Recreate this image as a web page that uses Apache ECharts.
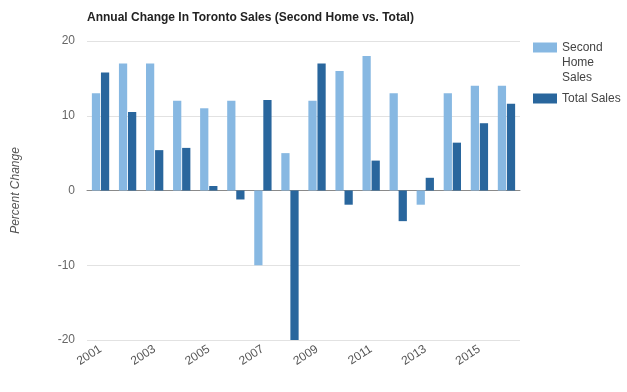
<!DOCTYPE html>
<html><head><meta charset="utf-8">
<script src="https://cdn.jsdelivr.net/npm/echarts@6/dist/echarts.min.js"></script>
<style>html,body{margin:0;padding:0;background:#fff}#c{width:627px;height:392px}</style>
</head><body><div id="c"></div>
<script>
const years = ['2001','2002','2003','2004','2005','2006','2007','2008','2009','2010','2011','2012','2013','2014','2015','2016'];
const secondHome = [13, 17, 17, 12, 11, 12, -10, 5, 12, 16, 18, 13, -1.9, 13, 14, 14];
const totalSales = [15.8, 10.5, 5.4, 5.7, 0.6, -1.2, 12.1, -20, 17, -1.9, 4, -4.1, 1.7, 6.4, 9, 11.6];
const yTicks = [-20, -10, 0, 10, 20];

const chart = echarts.init(document.getElementById('c'));
chart.setOption({
  animation: false,
  backgroundColor: '#fff',
  title: {
    text: 'Annual Change In Toronto Sales (Second Home vs. Total)',
    left: 82, top: 7,
    textStyle: {fontFamily: 'Liberation Sans', fontSize: 12, fontWeight: 'bold', color: '#222'}
  },
  legend: {
    orient: 'vertical', left: 528, top: 5,
    itemWidth: 24, itemHeight: 10, itemGap: 6,
    icon: 'rect',
    data: [
      {name: 'Second Home Sales'},
      {name: 'Total Sales'}
    ],
    formatter: n => n === 'Second Home Sales' ? '\n\nSecond\nHome\nSales' : n,
    textStyle: {fontFamily: 'Liberation Sans', fontSize: 12, color: '#444', lineHeight: 15}
  },
  grid: {left: 87, right: 107, top: 41, bottom: 52, containLabel: false},
  xAxis: {
    type: 'category', data: years,
    axisLine: {onZero: true, lineStyle: {color: '#8a8a8a', width: 1}},
    axisTick: {show: false},
    axisLabel: {interval: 1, rotate: 33, color: '#555', fontFamily: 'Liberation Sans', fontSize: 12, margin: 8},
    position: 'bottom'
  },
  yAxis: {
    type: 'value', min: yTicks[0], max: yTicks[yTicks.length-1], interval: 10,
    name: 'Percent Change', nameLocation: 'middle', nameGap: 65,
    nameTextStyle: {fontFamily: 'Liberation Sans', fontSize: 12, fontStyle: 'italic', color: '#555'},
    axisLine: {show: false}, axisTick: {show: false},
    axisLabel: {color: '#666', fontFamily: 'Liberation Sans', fontSize: 12, margin: 12},
    splitLine: {lineStyle: {color: '#e2e2e2', width: 1}}
  },
  series: [
    {name: 'Second Home Sales', type: 'bar', data: secondHome, itemStyle: {color: '#87b8e2'},
     barGap: '10%', barCategoryGap: '36%'},
    {name: 'Total Sales', type: 'bar', data: totalSales, itemStyle: {color: '#29669d'},
     barGap: '10%', barCategoryGap: '36%'}
  ]
});
</script></body></html>
